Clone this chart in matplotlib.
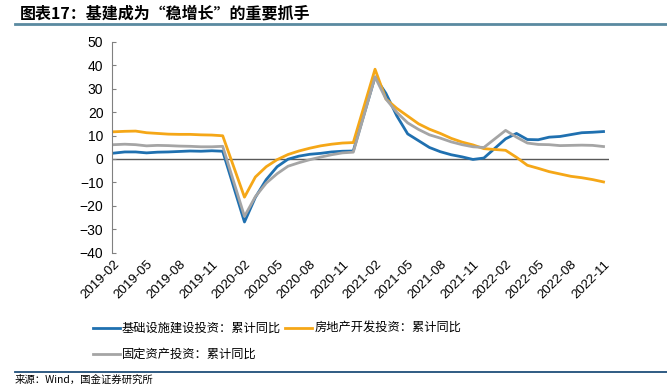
import matplotlib
matplotlib.use("Agg")
import matplotlib.pyplot as plt
import numpy as np

plt.rcParams['font.family'] = ['Liberation Sans', 'Noto Sans CJK SC', 'DejaVu Sans']

# months 2019-02 .. 2022-11, January values not published (None)
months = ["%d-%02d" % (y, m) for y in range(2019, 2023) for m in range(1, 13)]
months = months[1:months.index("2022-11") + 1]

infra = [2.5, 3.0, 3.0, 2.6, 2.9, 3.0, 3.2, 3.4, 3.3, 3.5, 3.3,
         None, -26.9, -16.4, -8.8, -3.3, -0.1, 1.2, 2.0, 2.4, 3.0, 3.3, 3.4,
         None, 35.0, 28.0, 18.4, 10.7, 7.8, 4.9, 3.1, 1.8, 0.9, -0.2, 0.4,
         None, 8.6, 10.9, 8.3, 8.2, 9.3, 9.6, 10.4, 11.2, 11.4, 11.7]
realestate = [11.6, 11.8, 11.9, 11.2, 10.9, 10.6, 10.5, 10.5, 10.3, 10.2, 9.9,
              None, -16.3, -7.7, -3.3, -0.3, 1.9, 3.4, 4.6, 5.6, 6.3, 6.8, 7.0,
              None, 38.3, 25.6, 21.6, 18.3, 15.0, 12.7, 10.9, 8.8, 7.2, 6.0, 4.4,
              None, 3.7, 0.7, -2.7, -4.0, -5.4, -6.4, -7.4, -8.0, -8.8, -9.8]
fai = [6.1, 6.3, 6.1, 5.6, 5.8, 5.7, 5.5, 5.4, 5.2, 5.2, 5.4,
       None, -24.5, -16.1, -10.3, -6.3, -3.1, -1.6, -0.3, 0.8, 1.8, 2.6, 2.9,
       None, 35.0, 25.6, 19.9, 15.4, 12.6, 10.3, 8.9, 7.3, 6.1, 5.2, 4.9,
       None, 12.2, 9.3, 6.8, 6.2, 6.1, 5.7, 5.8, 5.9, 5.8, 5.3]

series = [
    ("基础设施建设投资：累计同比", infra, "#1f70b0"),
    ("房地产开发投资：累计同比", realestate, "#f5a717"),
    ("固定资产投资：累计同比", fai, "#a5a5a5"),
]

fig = plt.figure(figsize=(6.67, 3.87), dpi=100)
ax = fig.add_axes([0.1675, 0.347, 0.7455, 0.545])

x = np.arange(len(months))
for name, vals, color in series:
    v = np.array([np.nan if a is None else a for a in vals], dtype=float)
    ok = ~np.isnan(v)
    ax.plot(x[ok], v[ok], color=color, lw=2.0, label=name)

ax.axhline(0, color="#595959", lw=1.0, zorder=1)
ax.set_ylim(-40, 50)
ax.set_yticks(range(-40, 51, 10))
ax.set_xlim(-0.2, len(months) - 0.5)
ax.set_xticks(x[::3])
ax.set_xticklabels(months[::3], rotation=45, ha="right", rotation_mode="anchor",
                   fontsize=9.5)
ax.tick_params(axis="x", length=0, pad=4)
ax.tick_params(axis="y", direction="in", length=3, color="#808080",
               labelsize=10, pad=6)
for s in ["top", "right", "bottom"]:
    ax.spines[s].set_visible(False)
ax.spines["left"].set_color("#808080")

# legend: row 1 = infra, real estate; row 2 = fai (column-major fill)
h, l = ax.get_legend_handles_labels()
order = [0, 2, 1]
fig.legend([h[i] for i in order], [l[i] for i in order], loc="upper left",
           bbox_to_anchor=(0.139, 1 - 322 / 387), ncol=2, frameon=False,
           handlelength=2.2, handletextpad=0.2, columnspacing=0.3,
           labelspacing=1.05, borderpad=0, borderaxespad=0,
           prop={"family": ["Noto Sans CJK SC"], "size": 8.8})

fig.text(0.03, 0.965, "图表17：基建成为“稳增长”的重要抓手", fontsize=11.5,
         fontweight="bold", style="italic", va="center",
         family=["Noto Sans CJK SC"])
fig.add_artist(plt.Line2D([0.022, 1.0], [1 - 24 / 387, 1 - 24 / 387],
                          color="#5a8aa0", lw=2, transform=fig.transFigure))
fig.add_artist(plt.Line2D([0.022, 1.0], [1 - 372 / 387, 1 - 372 / 387],
                          color="#1f4e79", lw=1.3, transform=fig.transFigure))
fig.text(0.022, 1 - 380 / 387, "来源：Wind，国金证券研究所", fontsize=7.5,
         va="center", family=["Noto Sans CJK SC"])

fig.savefig("out.png", dpi=100)
